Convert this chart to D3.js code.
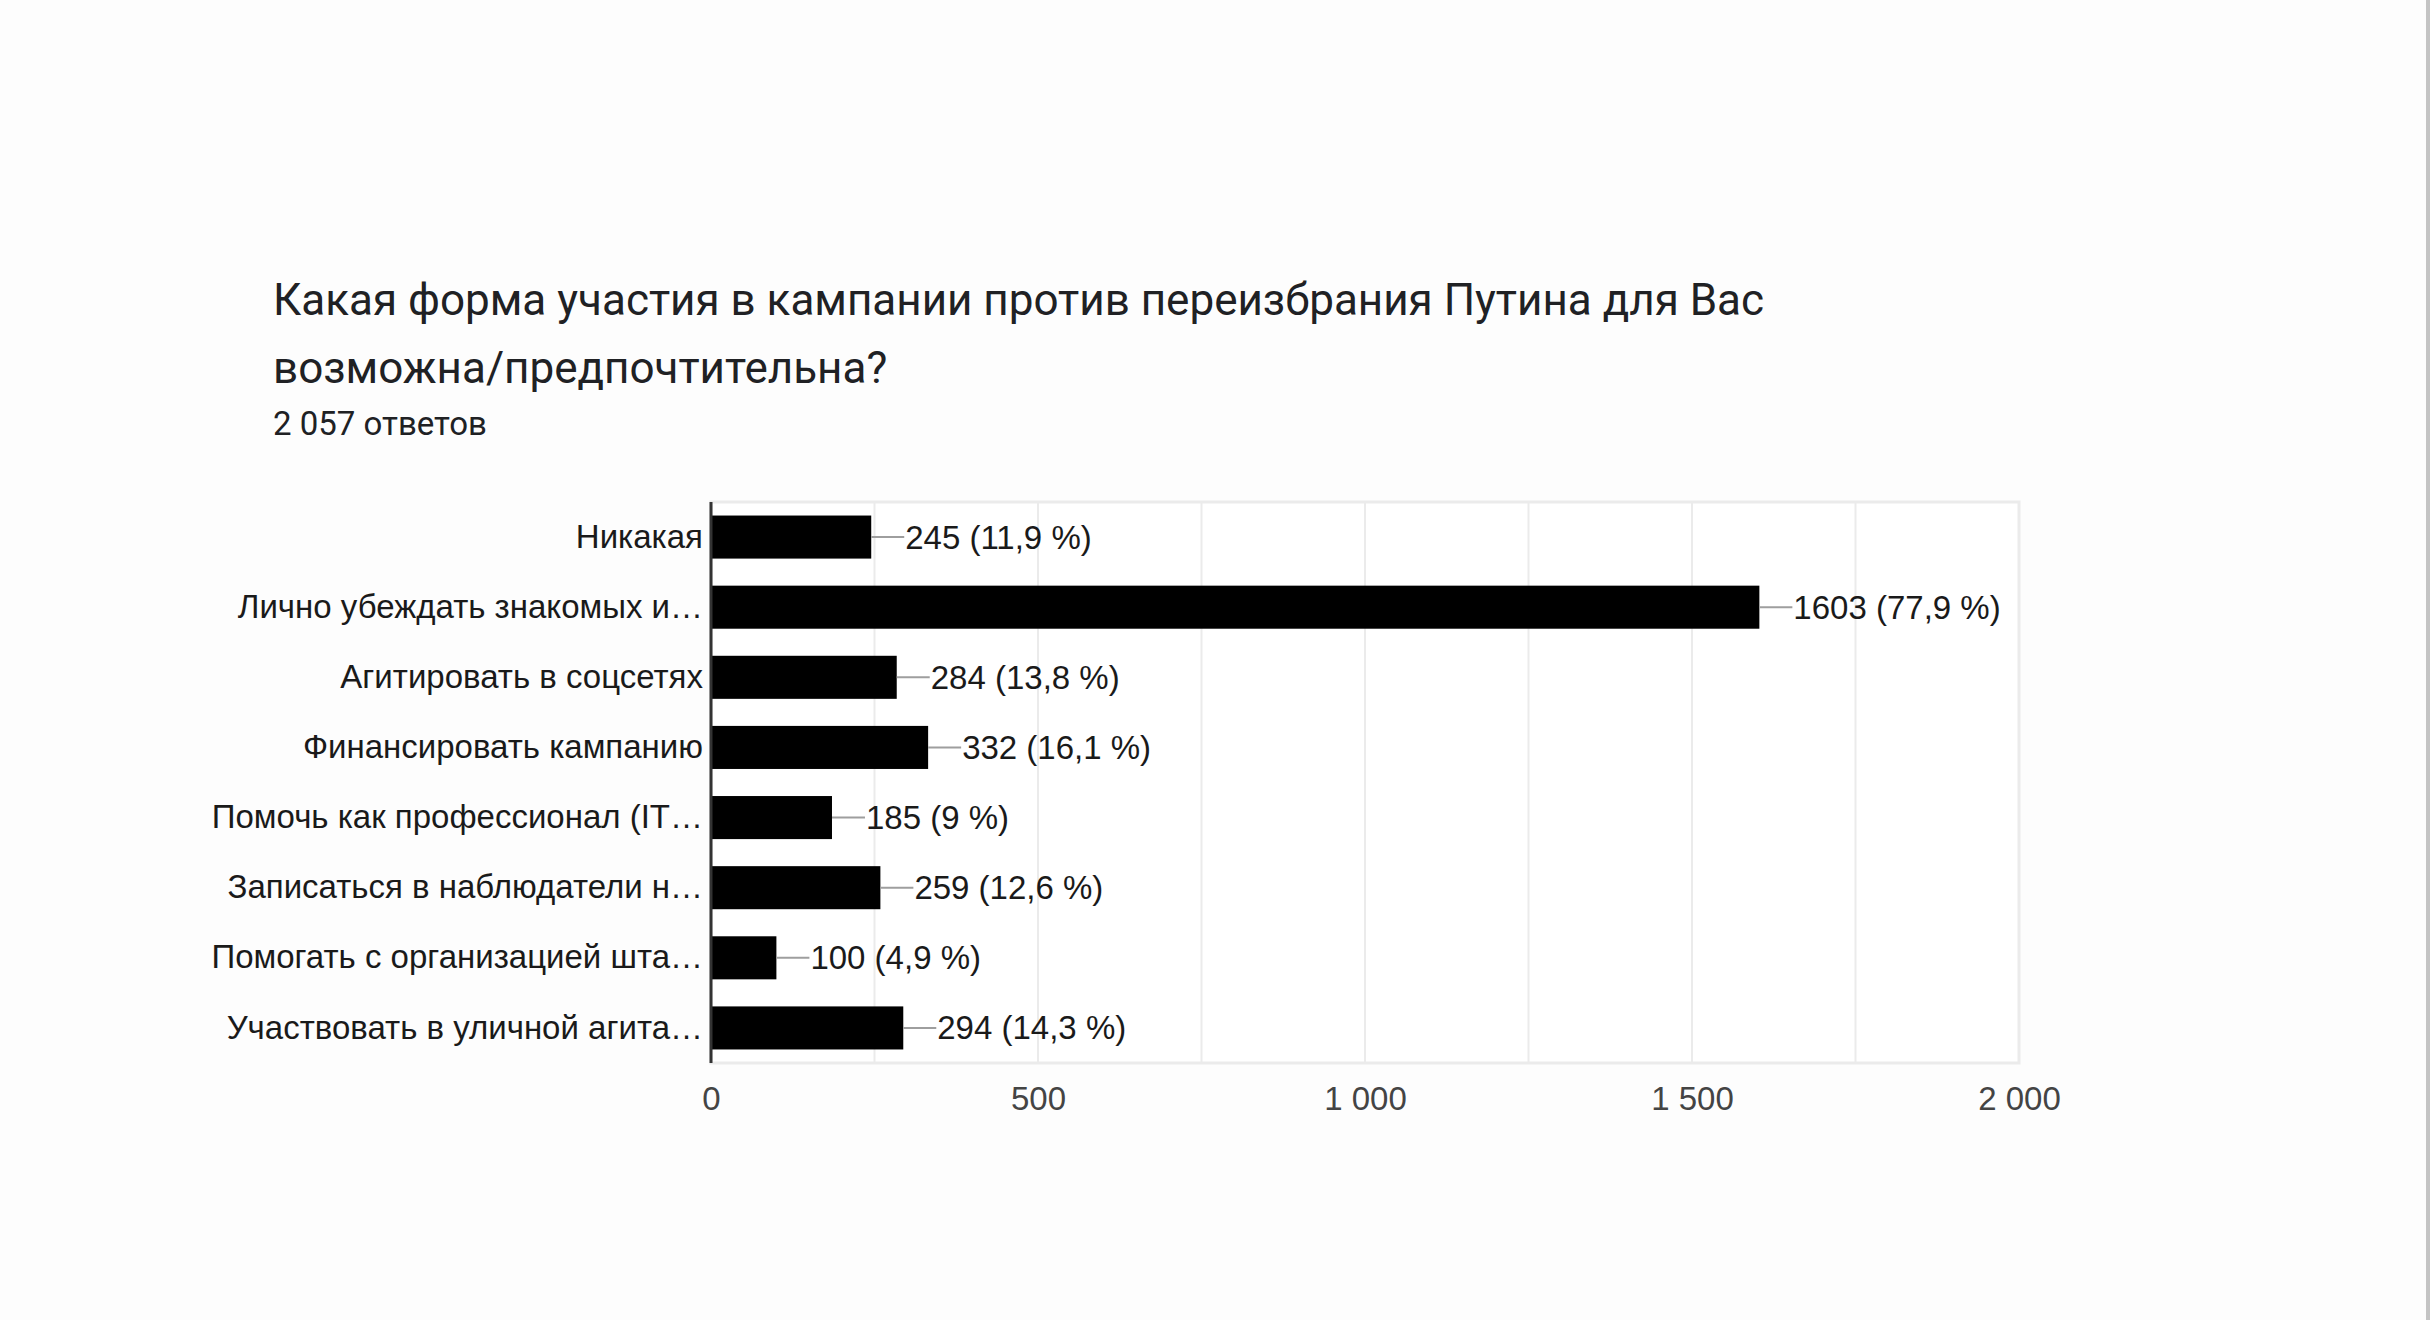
<!DOCTYPE html>
<html><head><meta charset="utf-8">
<script src="https://cdn.jsdelivr.net/npm/d3@7"></script>
<style>html,body{margin:0;padding:0;background:#fff;overflow:hidden}</style>
</head><body>
<script>
const title1 = "Какая форма участия в кампании против переизбрания Путина для Вас";
const title2 = "возможна/предпочтительна?";
const subtitle = "2 057 ответов";
const categories = ["Никакая","Лично убеждать знакомых и…","Агитировать в соцсетях","Финансировать кампанию","Помочь как профессионал (IT…","Записаться в наблюдатели н…","Помогать с организацией шта…","Участвовать в уличной агита…"];
const values = [245,1603,284,332,185,259,100,294];
const percents = ["11,9 %","77,9 %","13,8 %","16,1 %","9 %","12,6 %","4,9 %","14,3 %"];
const xTicks = [0,500,1000,1500,2000];
const xTickLabels = ["0","500","1 000","1 500","2 000"];
const gridValues = [250,500,750,1000,1250,1500,1750,2000];

const W=2430,H=1320;
const svg=d3.select("body").append("svg").attr("width",W).attr("height",H);
svg.append("rect").attr("width",W).attr("height",H).attr("fill","#fdfdfd");
svg.append("rect").attr("x",2426).attr("y",0).attr("width",4).attr("height",H).attr("fill","#c4c4c4");

const L=711,R=2019,T=502,B=1063;
const x=d3.scaleLinear().domain([0,2000]).range([L,R]);
const y=d3.scaleBand().domain(categories).range([T,B]).paddingInner(0.386).paddingOuter(0.193);

svg.append("text").attr("x",273).attr("y",315).attr("font-family","Roboto").attr("font-size",44).attr("fill","#202124").text(title1);
svg.append("text").attr("x",273).attr("y",383).attr("font-family","Roboto").attr("font-size",44).attr("fill","#202124").text(title2);
svg.append("text").attr("x",273).attr("y",435).attr("font-family","Roboto").attr("font-size",33).attr("fill","#202124").text(subtitle);

// plot frame
svg.append("rect").attr("x",L).attr("y",T).attr("width",R-L).attr("height",B-T).attr("fill","#fff").attr("stroke","#ebebeb").attr("stroke-width",3);
svg.append("g").selectAll("line").data(gridValues).join("line")
 .attr("x1",d=>x(d)).attr("x2",d=>x(d)).attr("y1",T).attr("y2",B)
 .attr("stroke","#ebebeb").attr("stroke-width",2);

// x axis
const xa=svg.append("g").attr("transform",`translate(0,${B})`)
 .call(d3.axisBottom(x).tickValues(xTicks).tickSize(0).tickPadding(24).tickFormat((d,i)=>xTickLabels[i]));
xa.select(".domain").remove();
xa.selectAll("text").attr("font-family","Liberation Sans, Arial").attr("font-size",33).attr("fill","#444").attr("dy","0.71em");

// y axis
const ya=svg.append("g").attr("transform",`translate(${L},0)`)
 .call(d3.axisLeft(y).tickSize(0).tickPadding(8));
ya.select(".domain").remove();
ya.selectAll("text").attr("font-family","Liberation Sans, Arial").attr("font-size",33).attr("fill","#1a1a1a");

// bars
svg.append("g").selectAll("rect").data(values).join("rect")
 .attr("x",x(0)).attr("y",(d,i)=>y(categories[i])).attr("width",d=>x(d)-x(0)).attr("height",y.bandwidth()).attr("fill","#000");

// leader lines
svg.append("g").selectAll("line").data(values).join("line")
 .attr("x1",d=>x(d)).attr("x2",d=>x(d)+33)
 .attr("y1",(d,i)=>y(categories[i])+y.bandwidth()/2).attr("y2",(d,i)=>y(categories[i])+y.bandwidth()/2)
 .attr("stroke","#9e9e9e").attr("stroke-width",2);
svg.append("g").selectAll("text").data(values).join("text")
 .attr("x",d=>x(d)+34).attr("y",(d,i)=>y(categories[i])+y.bandwidth()/2).attr("dy","0.35em")
 .attr("font-family","Liberation Sans, Arial").attr("font-size",33).attr("fill","#1a1a1a")
 .text((d,i)=>`${d} (${percents[i]})`);

// y axis line
svg.append("line").attr("x1",L).attr("x2",L).attr("y1",T).attr("y2",B).attr("stroke","#333").attr("stroke-width",3);
</script>
</body></html>
